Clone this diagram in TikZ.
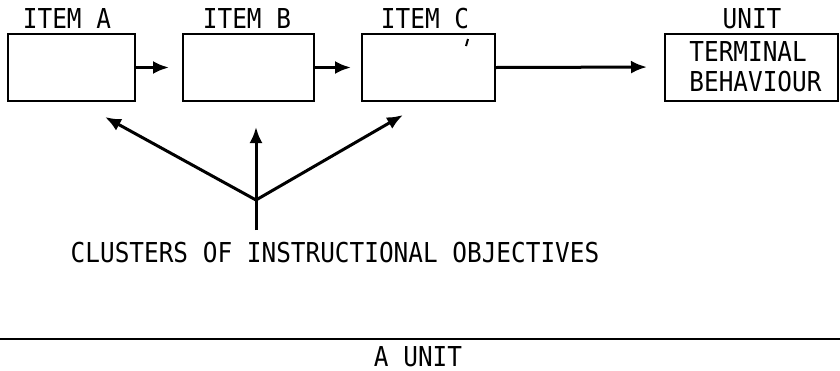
\documentclass[tikz,border=0pt]{standalone}
\usepackage{fontspec}
\setmonofont[FakeStretch=0.89]{DejaVu Sans Mono}
\usetikzlibrary{arrows.meta}
\begin{document}
\begin{tikzpicture}[x=0.5pt,y=-0.5pt,
  itembox/.style={draw,line width=1pt,minimum width=#1*0.5pt,minimum height=67*0.5pt,inner sep=0pt},
  lbl/.style={font=\ttfamily\fontsize{13.7}{16}\selectfont,inner sep=0pt,anchor=base},
  arr/.style={line width=1.5pt,-{Latex[length=8pt,width=6.5pt]}}]
\useasboundingbox (0,0) rectangle (840,370);
% boxes
\node[itembox=127] (A) at (71.5,67.5) {};
\node[itembox=131] (B) at (248.5,67.5) {};
\node[itembox=133] (C) at (428.5,67.5) {};
\node[itembox=173] (U) at (751.5,67) {};
% labels
\node[lbl] (la) at (67,28) {ITEM A};
\node[lbl] (lb) at (247,28) {ITEM B};
\node[lbl] (lc) at (425,28) {ITEM C};
\node[lbl] (lu) at (752,28) {UNIT};
\node[lbl,anchor=base west] (t1) at (689,61) {TERMINAL};
\node[lbl,anchor=base west] (t2) at (689,91) {BEHAVIOUR};
\node[lbl] (cl) at (335,262) {CLUSTERS OF INSTRUCTIONAL OBJECTIVES};
\node[lbl] (au) at (418,366) {A UNIT};
% small tick in C
\draw[line width=1pt] (468,39) -- (466,46);
% chain arrows
\draw[arr,shorten >=13*0.5pt] (A.east) -- (B.west);
\draw[arr,shorten >=10*0.5pt] (B.east) -- (C.west);
\draw[arr,shorten >=17*0.5pt] (C.east) -- (U.west);
% fan
\coordinate (hub) at (256,200);
\coordinate (stem) at (256,230);
\coordinate (ta) at (105,117);
\coordinate (tb) at (256,127);
\coordinate (tc) at (403,115);
\draw[line width=1.5pt] (stem) -- (hub);
\draw[arr] (hub) -- (ta);
\draw[arr] (hub) -- (tb);
\draw[arr] (hub) -- (tc);
% bottom line
\coordinate (l0) at (0,339);
\coordinate (l1) at (840,339);
\draw[line width=1.3pt] (l0) -- (l1);
\end{tikzpicture}
\end{document}
